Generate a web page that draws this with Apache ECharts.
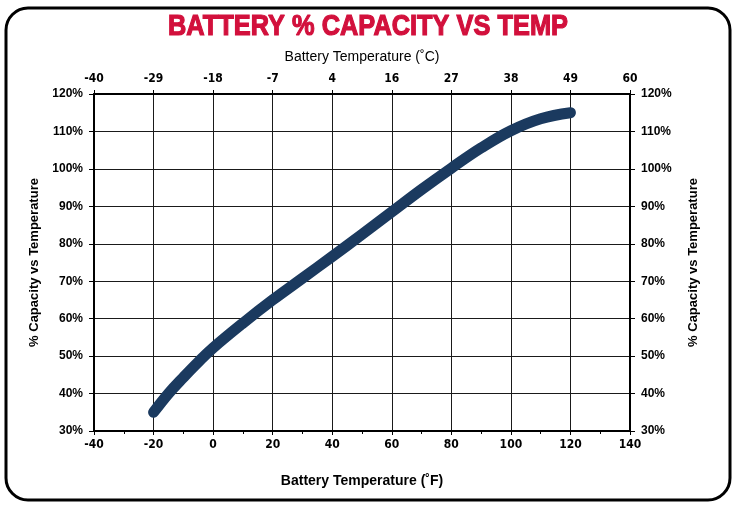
<!DOCTYPE html>
<html>
<head>
<meta charset="utf-8">
<script src="https://cdn.jsdelivr.net/npm/echarts@6/dist/echarts.min.js"></script>
<style>
html,body{margin:0;padding:0;background:#fff;}
#chart{width:734px;height:508px;}
</style>
</head>
<body>
<div id="chart"></div>
<script>
// Data
var tempF = [-20, -15, -10, -5, 0, 10, 20, 30, 40, 50, 60, 70, 80, 90, 100, 110, 120];
var capacityPct = [35, 40, 44.3, 48.4, 52.2, 58.8, 65, 70.8, 76.6, 82.5, 88.5, 94.5, 100.2, 105.6, 110.2, 113.4, 115];
var fahrenheitTicks = [-40, -20, 0, 20, 40, 60, 80, 100, 120, 140];
var celsiusTicks = ['-40', '-29', '-18', '-7', '4', '16', '27', '38', '49', '60'];
var percentTicks = [30, 40, 50, 60, 70, 80, 90, 100, 110, 120];
var titleText = 'BATTERY % CAPACITY VS TEMP';

var points = tempF.map(function (t, i) { return [t, capacityPct[i]]; });

var chart = echarts.init(document.getElementById('chart'), null, {renderer: 'canvas'});
var narrow = '"DejaVu Sans Condensed", "Liberation Sans", Arial, sans-serif';
var sans = '"Liberation Sans", Arial, sans-serif';

var gridLine = {show: true, lineStyle: {color: '#1a1a1a', width: 1}};
var axisLine = {show: true, onZero: false, lineStyle: {color: '#000', width: 2}};

chart.setOption({
  animation: false,
  backgroundColor: '#fff',
  graphic: [{
    type: 'rect',
    z: -1,
    shape: {x: 6, y: 8, width: 724, height: 492, r: 22},
    style: {fill: 'none', stroke: '#000', lineWidth: 3}
  }, {
    type: 'text',
    x: 368,
    y: 27,
    scaleX: 0.875,
    style: {
      text: titleText,
      fill: '#d2103c',
      stroke: '#d2103c',
      lineWidth: 1.2,
      font: 'bold 29px "Liberation Sans", Arial, sans-serif',
      align: 'center',
      verticalAlign: 'middle',
      textAlign: 'center',
      textVerticalAlign: 'middle'
    }
  }],
  grid: {left: 94, right: 104, top: 94, bottom: 77, containLabel: false},
  xAxis: [{
    type: 'value',
    position: 'bottom',
    min: -40, max: 140, interval: 20,
    name: 'Battery Temperature (˚F)',
    nameLocation: 'middle',
    nameGap: 43,
    nameTextStyle: {fontFamily: sans, fontWeight: 'bold', fontSize: 14, color: '#000'},
    axisLine: axisLine,
    axisTick: {show: true, length: 4, lineStyle: {color: '#000', width: 1}},
    minorTick: {show: true, splitNumber: 2, length: 3, lineStyle: {color: '#000'}},
    axisLabel: {
      fontFamily: narrow, fontWeight: 'bold', fontSize: 12, color: '#000', margin: 8,
      formatter: function (v) { return fahrenheitTicks.indexOf(v) >= 0 ? String(v) : ''; }
    },
    splitLine: gridLine
  }, {
    type: 'value',
    position: 'top',
    min: -40, max: 140, interval: 20,
    name: 'Battery Temperature (˚C)',
    nameLocation: 'middle',
    nameGap: 30,
    nameTextStyle: {fontFamily: sans, fontWeight: 'normal', fontSize: 14, color: '#000'},
    axisLine: axisLine,
    axisTick: {show: true, length: 4, lineStyle: {color: '#000', width: 1}},
    axisLabel: {
      fontFamily: narrow, fontWeight: 'bold', fontSize: 12, color: '#000', margin: 9,
      formatter: function (v) { var i = fahrenheitTicks.indexOf(v); return i >= 0 ? celsiusTicks[i] : ''; }
    },
    splitLine: {show: false}
  }],
  yAxis: [{
    type: 'value',
    position: 'left',
    min: 30, max: 120, interval: 10,
    name: '% Capacity vs Temperature',
    nameLocation: 'middle',
    nameRotate: 90,
    nameGap: 48,
    nameTextStyle: {fontFamily: sans, fontWeight: 'bold', fontSize: 13, color: '#000'},
    axisLine: axisLine,
    axisTick: {show: true, length: 5, lineStyle: {color: '#000', width: 1}},
    axisLabel: {
      fontFamily: sans, fontWeight: 'bold', fontSize: 12, color: '#000', margin: 11,
      formatter: function (v) { return percentTicks.indexOf(v) >= 0 ? v + '%' : ''; }
    },
    splitLine: gridLine
  }, {
    type: 'value',
    position: 'right',
    min: 30, max: 120, interval: 10,
    name: '% Capacity vs Temperature',
    nameLocation: 'middle',
    nameRotate: 90,
    nameGap: 57,
    nameTextStyle: {fontFamily: sans, fontWeight: 'bold', fontSize: 13, color: '#000'},
    axisLine: axisLine,
    axisTick: {show: true, length: 5, lineStyle: {color: '#000', width: 1}},
    axisLabel: {
      fontFamily: sans, fontWeight: 'bold', fontSize: 12, color: '#000', margin: 11,
      formatter: function (v) { return percentTicks.indexOf(v) >= 0 ? v + '%' : ''; }
    },
    splitLine: {show: false}
  }],
  series: [{
    type: 'line',
    xAxisIndex: 0,
    yAxisIndex: 0,
    data: points,
    smooth: 0.4,
    showSymbol: false,
    symbol: 'none',
    lineStyle: {color: '#1b3a5f', width: 11, cap: 'round', join: 'round'}
  }]
});
</script>
</body>
</html>
